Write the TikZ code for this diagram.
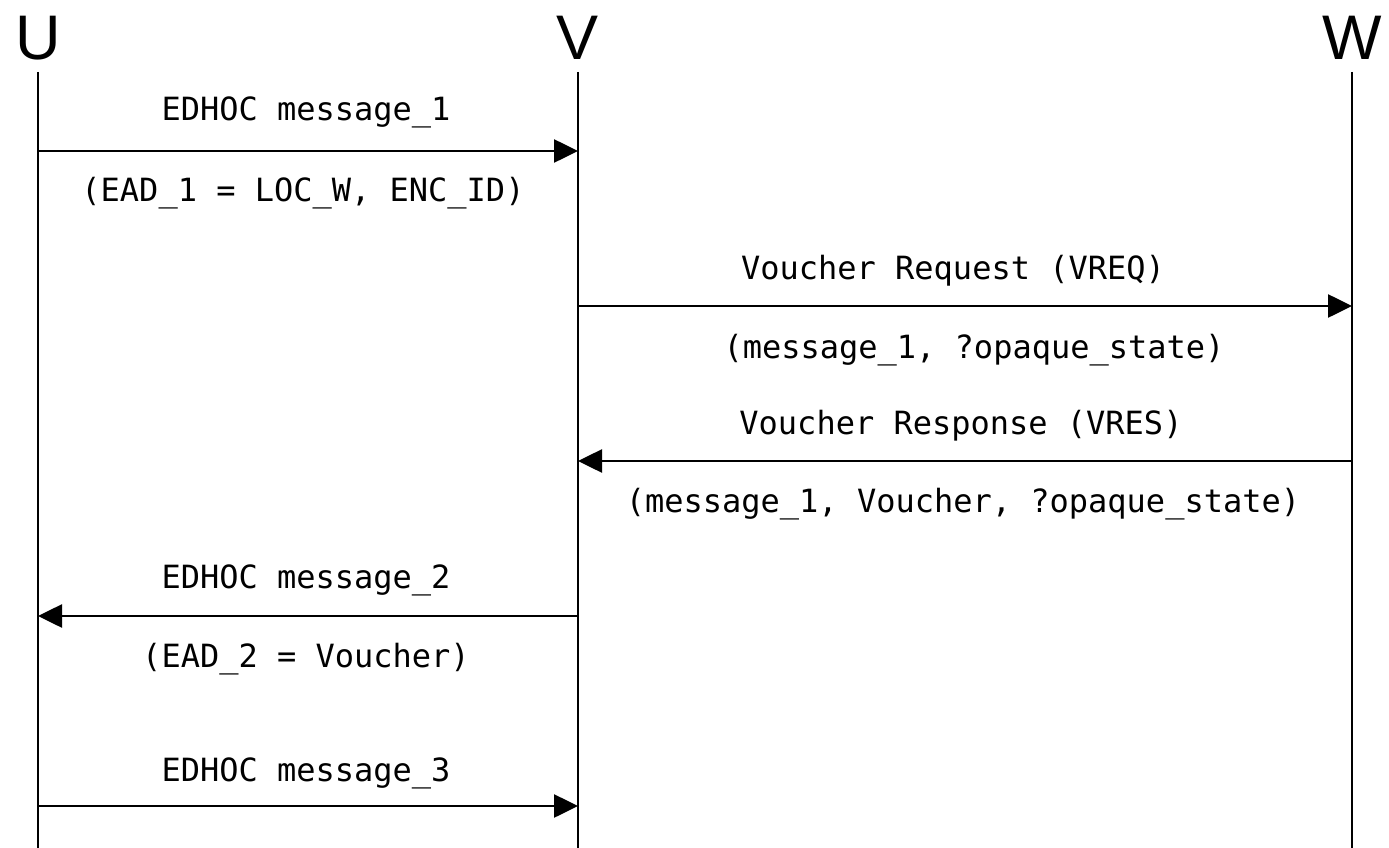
\documentclass[tikz,border=0pt]{standalone}
\usepackage{fontspec}
\setmainfont{Liberation Sans}
\newfontfamily\monofont{DejaVu Sans Mono}
\usetikzlibrary{arrows.meta}
\begin{document}
\begin{tikzpicture}[x=1pt,y=-1pt,
  actor/.style={font=\fontsize{63}{63}\selectfont, inner sep=0pt, anchor=base},
  lbl/.style={font=\monofont\fontsize{32}{32}\selectfont, inner sep=0pt, anchor=base},
  life/.style={line width=2pt},
  msg/.style={line width=2.6pt, -{Triangle[length=24pt,width=23pt]}}]
\useasboundingbox (0,0) rectangle (1389,848);
% actors
\node[actor] (U) at (38,60) {U};
\node[actor] (V) at (578,60) {V};
\node[actor] (W) at (1352,60) {W};
% lifelines
\coordinate (Ut) at (38,72);  \coordinate (Ub) at (38,848);
\coordinate (Vt) at (578,72); \coordinate (Vb) at (578,848);
\coordinate (Wt) at (1352,72); \coordinate (Wb) at (1352,848);
\draw[life] (Ut) -- (Ub);
\draw[life] (Vt) -- (Vb);
\draw[life] (Wt) -- (Wb);
% message points
\coordinate (u1) at (38,151);  \coordinate (v1) at (578,151);
\coordinate (v2) at (578,306); \coordinate (w2) at (1352,306);
\coordinate (w3) at (1352,461); \coordinate (v3) at (578,461);
\coordinate (v4) at (578,616); \coordinate (u4) at (38,616);
\coordinate (u5) at (38,806);  \coordinate (v5) at (578,806);
% arrows
\draw[msg] (u1) -- (v1);
\draw[msg] (v2) -- (w2);
\draw[msg] (w3) -- (v3);
\draw[msg] (v4) -- (u4);
\draw[msg] (u5) -- (v5);
% labels
\node[lbl] (l1a) at (306,121) {EDHOC message\_1};
\node[lbl] (l1b) at (303,201) {(EAD\_1 = LOC\_W, ENC\_ID)};
\node[lbl] (l2a) at (953,279) {Voucher Request (VREQ)};
\node[lbl] (l2b) at (974,358) {(message\_1, ?opaque\_state)};
\node[lbl] (l3a) at (961,434) {Voucher Response (VRES)};
\node[lbl] (l3b) at (963,512) {(message\_1, Voucher, ?opaque\_state)};
\node[lbl] (l4a) at (306,588) {EDHOC message\_2};
\node[lbl] (l4b) at (306,667) {(EAD\_2 = Voucher)};
\node[lbl] (l5a) at (306,781) {EDHOC message\_3};
\end{tikzpicture}
\end{document}
